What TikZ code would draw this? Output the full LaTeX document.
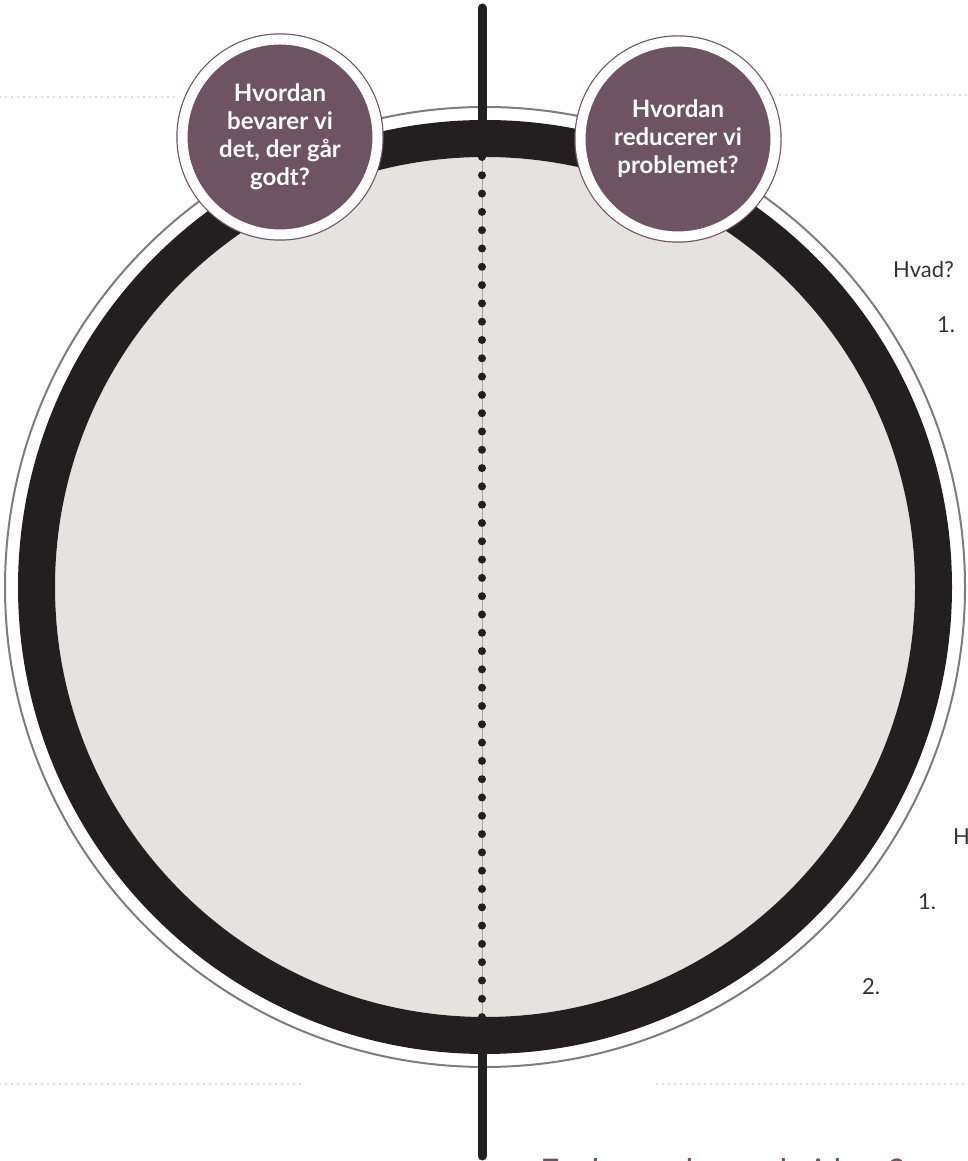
\documentclass[tikz,border=0pt]{standalone}
\usepackage{fontspec}
\setmainfont{Lato}
\definecolor{plum}{HTML}{6E5462}
\definecolor{disc}{HTML}{E5E3DF}
\definecolor{rim}{HTML}{7D7D7D}
\definecolor{guide}{HTML}{D4D4D4}
\definecolor{ink}{HTML}{333333}
\definecolor{coal}{HTML}{231F20}
\begin{document}
\begin{tikzpicture}[x=1pt, y=1pt,
    bubble/.style={circle, fill=plum, draw=plum, double=white, double distance=10pt,
      line width=1.2pt, minimum size=195pt, inner sep=0pt, text=white, align=center,
      font=\bfseries\fontsize{24}{28}\selectfont},
    guideline/.style={guide, line width=2.2pt, line cap=round, dash pattern=on 0pt off 6pt},
    note/.style={text=ink, font=\fontsize{22}{26}\selectfont, anchor=base west, inner sep=0pt}]
  \useasboundingbox (0,0) rectangle (967,1161);
  \clip (0,0) rectangle (967,1161);

  % dotted guide lines
  \draw[guideline] (0,1064) -- (178,1064);
  \draw[guideline] (780,1066) -- (967,1066);
  \draw[guideline] (0,77) -- (305,77);
  \draw[guideline] (657,77) -- (967,77);

  % the disc
  \coordinate (mid) at (485,574);
  \fill[disc] (mid) circle (430);
  \draw[coal, line width=37pt] (mid) circle (448.5);
  \draw[rim, line width=2pt] (mid) circle (480);

  % spine through the disc
  \coordinate (spinetop) at (482,1153);
  \coordinate (spinehi) at (482,1040);
  \coordinate (spinelo) at (482,108);
  \coordinate (spinebot) at (482,5);
  \draw[coal, line width=9pt, line cap=round] (spinetop) -- (spinehi);
  \draw[coal, line width=9pt, line cap=round] (spinelo) -- (spinebot);
  \draw[black!35, line width=1pt] (482,1004) -- (482,144);
  \foreach \i in {0,...,47}
    \fill[coal] (482,1004-\i*18.3) circle (4);

  % questions
  \node[bubble] (keep) at (280,1024) {Hvordan\\bevarer vi\\det, der går\\godt?};
  \node[bubble] (cut) at (678,1022) {Hvordan\\reducerer vi\\problemet?};

  % right hand notes
  \node[note] (what) at (893,883) {Hvad?};
  \node[note] (what1) at (937,828) {1.};
  \node[note] (how) at (953,316) {H};
  \node[note] (how1) at (918,251) {1.};
  \node[note] (how2) at (862,166) {2.};
  \node[text=plum, font=\fontsize{34}{40}\selectfont, anchor=base west, inner sep=0pt] (ask) at (540,-22) {Er der andre gode ideer?};
\end{tikzpicture}
\end{document}
